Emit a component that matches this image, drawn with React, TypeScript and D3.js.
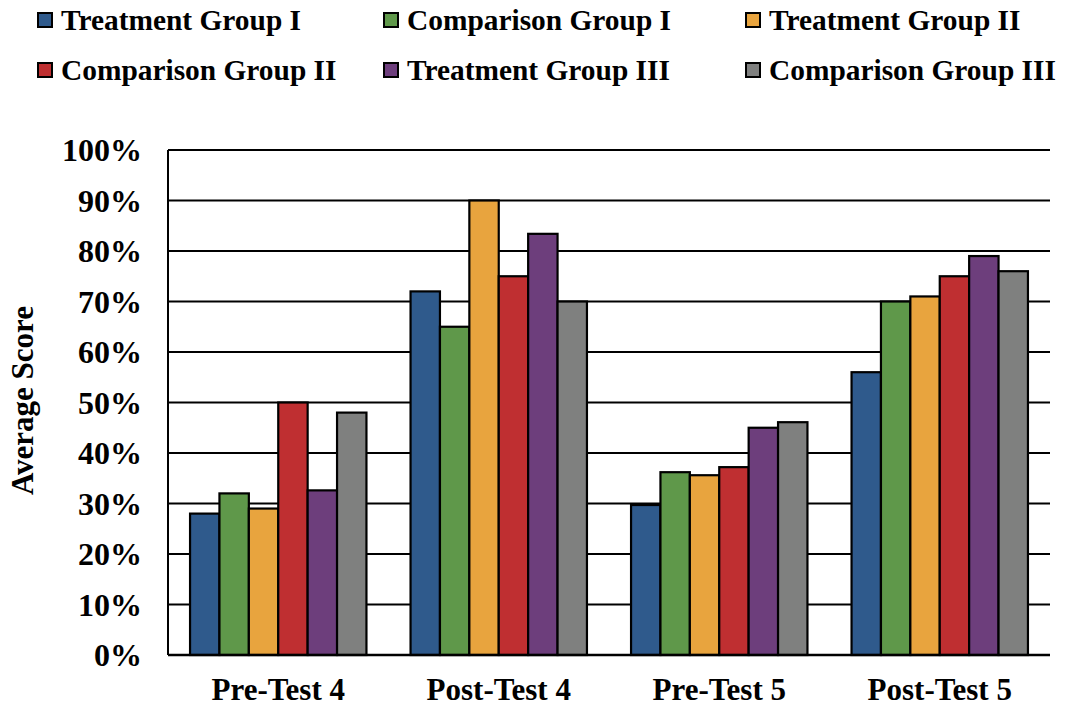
import { useEffect, useRef } from 'react';
import * as d3 from 'd3';

const categories = ['Pre-Test 4', 'Post-Test 4', 'Pre-Test 5', 'Post-Test 5'];
const groups = [
  'Treatment Group I',
  'Comparison Group I',
  'Treatment Group II',
  'Comparison Group II',
  'Treatment Group III',
  'Comparison Group III',
];
const colors = ['#2f5a8c', '#5f984a', '#e8a43e', '#bf2f31', '#6d3e7c', '#7f807f'];

// values per group, in category order (percent)
const treatmentI = [28, 72, 29.7, 56];
const comparisonI = [32, 65, 36.2, 70];
const treatmentII = [29, 90, 35.6, 71];
const comparisonII = [50, 75, 37.2, 75];
const treatmentIII = [32.6, 83.4, 45, 79];
const comparisonIII = [48, 70, 46.1, 76];
const series = [treatmentI, comparisonI, treatmentII, comparisonII, treatmentIII, comparisonIII];

const yTicks = [0, 10, 20, 30, 40, 50, 60, 70, 80, 90, 100];

export default function App() {
  const svgRef = useRef<SVGSVGElement>(null);

  useEffect(() => {
    if (!svgRef.current) return;
    const svg = d3.select(svgRef.current);
    svg.selectAll('*').remove();

    const font = '"Liberation Serif", "Times New Roman", serif';
    const left = 168;
    const right = 1050;
    const top = 150;
    const bottom = 655;

    const x0 = d3.scaleBand<string>().domain(categories).range([left, right]).paddingInner(0.2).paddingOuter(0.1);
    const x1 = d3.scaleBand<string>().domain(groups).range([0, x0.bandwidth()]).padding(0);
    const y = d3.scaleLinear().domain([0, 100]).range([bottom, top]);

    // gridlines
    svg.append('g')
      .selectAll('line')
      .data(yTicks.filter(t => t > 0))
      .enter()
      .append('line')
      .attr('x1', left)
      .attr('x2', right)
      .attr('y1', d => y(d))
      .attr('y2', d => y(d))
      .attr('stroke', '#000')
      .attr('stroke-width', 2);

    // bars
    categories.forEach((cat, ci) => {
      svg.append('g')
        .selectAll('rect')
        .data(groups)
        .enter()
        .append('rect')
        .attr('x', g => (x0(cat) as number) + (x1(g) as number))
        .attr('y', (g, gi) => y(series[gi][ci]))
        .attr('width', x1.bandwidth())
        .attr('height', (g, gi) => y(0) - y(series[gi][ci]))
        .attr('fill', (g, gi) => colors[gi])
        .attr('stroke', '#000')
        .attr('stroke-width', 2.2);
    });

    // axes lines
    svg.append('line')
      .attr('x1', left).attr('x2', left)
      .attr('y1', top).attr('y2', bottom)
      .attr('stroke', '#000').attr('stroke-width', 2);
    svg.append('line')
      .attr('x1', left).attr('x2', right)
      .attr('y1', bottom).attr('y2', bottom)
      .attr('stroke', '#000').attr('stroke-width', 2.5);

    // y tick labels
    svg.append('g')
      .selectAll('text')
      .data(yTicks)
      .enter()
      .append('text')
      .attr('x', 142)
      .attr('y', d => y(d))
      .attr('dy', '0.35em')
      .attr('text-anchor', 'end')
      .attr('font-family', font)
      .attr('font-weight', 'bold')
      .attr('font-size', 32)
      .text(d => `${d}%`);

    // x labels
    svg.append('g')
      .selectAll('text')
      .data(categories)
      .enter()
      .append('text')
      .attr('x', d => (x0(d) as number) + x0.bandwidth() / 2)
      .attr('y', 700)
      .attr('text-anchor', 'middle')
      .attr('font-family', font)
      .attr('font-weight', 'bold')
      .attr('font-size', 31)
      .text(d => d);

    // y axis title
    svg.append('text')
      .attr('transform', `translate(33, ${(top + bottom) / 2 - 2}) rotate(-90)`)
      .attr('text-anchor', 'middle')
      .attr('font-family', font)
      .attr('font-weight', 'bold')
      .attr('font-size', 31)
      .text('Average Score');

    // legend
    const legendX = [38, 384, 746];
    const legendY = [20, 70];
    groups.forEach((g, i) => {
      const lx = legendX[i % 3];
      const ly = legendY[Math.floor(i / 3)];
      svg.append('rect')
        .attr('x', lx)
        .attr('y', ly - 7)
        .attr('width', 14)
        .attr('height', 14)
        .attr('fill', colors[i])
        .attr('stroke', '#000')
        .attr('stroke-width', 2);
      svg.append('text')
        .attr('x', lx + 23)
        .attr('y', ly)
        .attr('dy', '0.35em')
        .attr('font-family', font)
        .attr('font-weight', 'bold')
        .attr('font-size', 29.4)
        .text(g);
    });
  }, []);

  return (
    <svg
      ref={svgRef}
      width={1065}
      height={708}
      viewBox="0 0 1065 708"
      style={{ position: 'absolute', left: 0, top: 0, background: '#fff' }}
    />
  );
}
